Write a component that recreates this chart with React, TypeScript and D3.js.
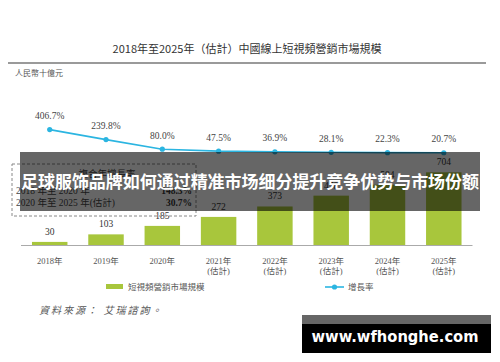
import React from 'react';
import * as d3 from 'd3';

const years = ['2018年', '2019年', '2020年', '2021年', '2022年', '2023年', '2024年', '2025年'];
const estimated = [false, false, false, true, true, true, true, true];
const marketSize = [30, 103, 185, 272, 373, 478, 584, 704];
const growthRate = [406.7, 239.8, 80.0, 47.5, 36.9, 28.1, 22.3, 20.7];
const cagrRows = [
  { period: '2018 年至 2020 年', value: '148.3%' },
  { period: '2020 年至 2025 年(估計)', value: '30.7%' },
];

const W = 500;
const H = 362;
const serif = '"Liberation Serif", "Noto Sans CJK TC", serif';
const sans = '"Noto Sans CJK TC", "Noto Sans", sans-serif';
const green = '#a8c63c';
const cyan = '#2bb5e1';

const App: React.FC = () => {
  const x = d3
    .scaleBand<string>()
    .domain(years)
    .range([21, 472.5])
    .paddingInner(0.37)
    .paddingOuter(0.195);

  const yBar = d3.scaleLinear().domain([0, 800]).range([245, 162.4]);
  const yLine = d3.scaleLinear().domain([0, 450]).range([154, 127]);

  const cx = (d: string) => (x(d) || 0) + x.bandwidth() / 2;

  const line = d3
    .line<number>()
    .x((_, i) => cx(years[i]))
    .y(d => yLine(d));

  return (
    <div style={{ position: 'fixed', left: 0, top: 0 }}>
      <svg width={W} height={H} style={{ display: 'block', background: '#fff' }}>
        {/* title */}
        <text x={247} y={53} textAnchor="middle" fontFamily={sans} fontSize={11} fill="#333">
          2018年至2025年（估計）中國線上短視頻營銷市場規模
        </text>
        <rect x={8} y={62} width={478} height={2} fill="#9a9a9a" />
        <text x={15} y={76} fontFamily={serif} fontSize={8} fill="#555">人民幣十億元</text>

        {/* bars */}
        {marketSize.map((v, i) => (
          <g key={years[i]}>
            <rect
              x={x(years[i])}
              y={yBar(v)}
              width={x.bandwidth()}
              height={yBar(0) - yBar(v)}
              fill={green}
            />
            <text x={cx(years[i])} y={yBar(v) - 7} textAnchor="middle" fontFamily={serif} fontSize={9.5} fill="#333">
              {v}
            </text>
          </g>
        ))}
        <line x1={21} x2={472.5} y1={245.5} y2={245.5} stroke="#aaa" strokeWidth={1} />

        {/* growth line */}
        <path d={line(growthRate) || ''} fill="none" stroke={cyan} strokeWidth={1.6} />
        {growthRate.map((v, i) => (
          <g key={'g' + i}>
            <circle cx={cx(years[i])} cy={yLine(v)} r={2.6} fill={cyan} />
            <text x={cx(years[i])} y={yLine(v) - 10.5} textAnchor="middle" fontFamily={serif} fontSize={9.5} fill="#444">
              {v.toFixed(1)}%
            </text>
          </g>
        ))}

        {/* CAGR box */}
        <rect x={12} y={164} width={184} height={52} fill="none" stroke="#888" strokeDasharray="3,2" strokeWidth={1} />
        <text x={107} y={177} textAnchor="middle" fontFamily={serif} fontSize={9.5} fill="#444">複合年增長率</text>
        {cagrRows.map((r, i) => (
          <g key={r.period}>
            <text x={16} y={193.5 + i * 12} fontFamily={serif} fontSize={9.5} fill="#444">{r.period}</text>
            <text x={192} y={193.5 + i * 12} textAnchor="end" fontFamily={serif} fontSize={9.5} fontWeight="bold" fill="#333">{r.value}</text>
          </g>
        ))}

        {/* x axis labels */}
        {years.map((d, i) => (
          <g key={'x' + d}>
            <text x={cx(d)} y={264} textAnchor="middle" fontFamily={serif} fontSize={8.5} fill="#555">{d}</text>
            {estimated[i] && (
              <text x={cx(d)} y={274} textAnchor="middle" fontFamily={serif} fontSize={8.5} fill="#555">(估計)</text>
            )}
          </g>
        ))}

        {/* legend */}
        <rect x={106} y={284} width={17} height={5} fill={green} />
        <text x={128} y={290} fontFamily={serif} fontSize={8.5} fill="#555">短視頻營銷市場規模</text>
        <line x1={325} x2={344} y1={287} y2={287} stroke={cyan} strokeWidth={1.6} />
        <circle cx={334.5} cy={287} r={2.6} fill={cyan} />
        <text x={348} y={290} fontFamily={serif} fontSize={8.5} fill="#555">增長率</text>

        <text x={39} y={314} fontFamily={serif} fontSize={10} fontStyle="italic" fill="#555" letterSpacing={2}>
          資料來源： 艾瑞諮詢。
        </text>

        {/* overlay banner */}
        <rect x={20} y={152} width={460} height={59} fill="#000" fillOpacity={0.6} />
        <text
          x={250}
          y={188}
          textAnchor="middle"
          fontFamily='"Noto Sans CJK SC", sans-serif'
          fontSize={17.5}
          fontWeight="bold"
          fill="#fff"
          textLength={458}
          lengthAdjust="spacingAndGlyphs"
        >
          足球服饰品牌如何通过精准市场细分提升竞争优势与市场份额
        </text>

        {/* watermark */}
        <rect x={302} y={315} width={189} height={9} fill="#666" />
        <rect x={302} y={324} width={189} height={29} fill="#000" />
        <text
          x={395}
          y={342}
          textAnchor="middle"
          fontFamily='"DejaVu Sans", sans-serif'
          fontSize={16}
          fontWeight="bold"
          fill="#fff"
          textLength={167}
          lengthAdjust="spacingAndGlyphs"
        >
          www.wfhonghe.com
        </text>
      </svg>
    </div>
  );
};

export default App;
